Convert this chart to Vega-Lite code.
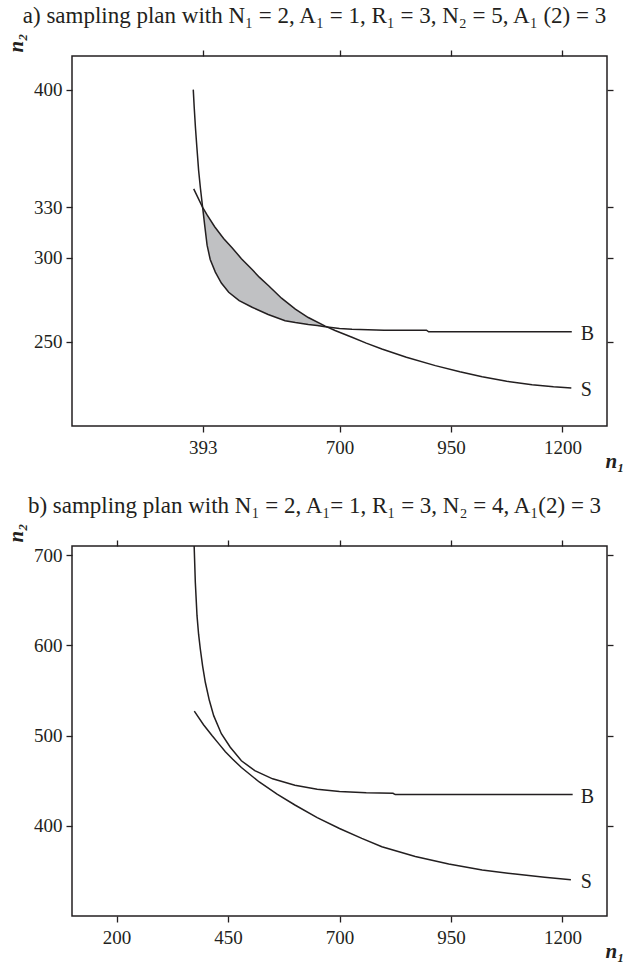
{
  "$schema": "https://vega.github.io/schema/vega-lite/v6.json",
  "background": "white",
  "padding": {"left": 4, "top": 4, "right": 0, "bottom": 0},
  "config": {
    "font": "Liberation Serif",
    "view": {"stroke": "#231f20", "strokeWidth": 1.5},
    "axis": {
      "grid": false,
      "domain": false,
      "tickColor": "#231f20",
      "tickWidth": 1.3,
      "tickSize": 6,
      "format": "d",
      "labelFont": "Liberation Serif",
      "labelFontSize": 19,
      "labelColor": "#231f20",
      "titleFont": "Liberation Serif",
      "titleFontSize": 21,
      "titleFontStyle": "italic",
      "titleFontWeight": "bold",
      "titleColor": "#231f20"
    },
    "title": {"font": "Liberation Serif", "fontSize": 23, "fontWeight": "normal", "color": "#231f20", "anchor": "middle", "frame": "bounds", "offset": 5}
  },
  "datasets": {
    "a_curves": [
      {"curve": "S", "n1": 373, "n2": 341},
      {"curve": "S", "n1": 393, "n2": 330},
      {"curve": "S", "n1": 403, "n2": 325.5},
      {"curve": "S", "n1": 420, "n2": 318.5},
      {"curve": "S", "n1": 440, "n2": 311.5},
      {"curve": "S", "n1": 459, "n2": 306},
      {"curve": "S", "n1": 480, "n2": 299.5},
      {"curve": "S", "n1": 504, "n2": 293},
      {"curve": "S", "n1": 520, "n2": 288.5},
      {"curve": "S", "n1": 541, "n2": 283.4},
      {"curve": "S", "n1": 570, "n2": 276},
      {"curve": "S", "n1": 601, "n2": 269.5},
      {"curve": "S", "n1": 630, "n2": 264.5},
      {"curve": "S", "n1": 668, "n2": 259.4},
      {"curve": "S", "n1": 690, "n2": 256.8},
      {"curve": "S", "n1": 728, "n2": 252.8},
      {"curve": "S", "n1": 760, "n2": 249.3},
      {"curve": "S", "n1": 795, "n2": 245.8},
      {"curve": "S", "n1": 850, "n2": 240.9},
      {"curve": "S", "n1": 915, "n2": 235.9},
      {"curve": "S", "n1": 970, "n2": 232.2},
      {"curve": "S", "n1": 1020, "n2": 229.3},
      {"curve": "S", "n1": 1075, "n2": 226.6},
      {"curve": "S", "n1": 1132, "n2": 224.5},
      {"curve": "S", "n1": 1180, "n2": 223.3},
      {"curve": "S", "n1": 1220, "n2": 222.6},
      {"curve": "B", "n1": 372, "n2": 400},
      {"curve": "B", "n1": 374, "n2": 390},
      {"curve": "B", "n1": 377, "n2": 377},
      {"curve": "B", "n1": 380, "n2": 366},
      {"curve": "B", "n1": 384, "n2": 352},
      {"curve": "B", "n1": 388, "n2": 341.5},
      {"curve": "B", "n1": 393, "n2": 330},
      {"curve": "B", "n1": 398, "n2": 318.5},
      {"curve": "B", "n1": 403, "n2": 307.5},
      {"curve": "B", "n1": 410, "n2": 299},
      {"curve": "B", "n1": 421.5, "n2": 291.5},
      {"curve": "B", "n1": 435, "n2": 285},
      {"curve": "B", "n1": 451.5, "n2": 279.5},
      {"curve": "B", "n1": 475, "n2": 274.5},
      {"curve": "B", "n1": 504, "n2": 270.6},
      {"curve": "B", "n1": 540, "n2": 266.3},
      {"curve": "B", "n1": 578, "n2": 262.6},
      {"curve": "B", "n1": 601, "n2": 261.5},
      {"curve": "B", "n1": 630, "n2": 260.3},
      {"curve": "B", "n1": 650, "n2": 259.7},
      {"curve": "B", "n1": 668, "n2": 259},
      {"curve": "B", "n1": 700, "n2": 258},
      {"curve": "B", "n1": 728, "n2": 257.5},
      {"curve": "B", "n1": 800, "n2": 257},
      {"curve": "B", "n1": 895, "n2": 257},
      {"curve": "B", "n1": 900, "n2": 256},
      {"curve": "B", "n1": 1221, "n2": 256}
    ],
    "a_fill": [
      {"n1": 393, "s": 330, "b": 330},
      {"n1": 398, "s": 327.5, "b": 318.5},
      {"n1": 403, "s": 325.5, "b": 307.5},
      {"n1": 410, "s": 322.6, "b": 299},
      {"n1": 421.5, "s": 318, "b": 291.5},
      {"n1": 435, "s": 313.2, "b": 285},
      {"n1": 451.5, "s": 308, "b": 279.5},
      {"n1": 475, "s": 301.3, "b": 274.5},
      {"n1": 504, "s": 293, "b": 270.6},
      {"n1": 540, "s": 283.6, "b": 266.3},
      {"n1": 578, "s": 274.2, "b": 262.6},
      {"n1": 601, "s": 269.5, "b": 261.5},
      {"n1": 630, "s": 264.5, "b": 260.3},
      {"n1": 650, "s": 261.8, "b": 259.7},
      {"n1": 668, "s": 259.4, "b": 259},
      {"n1": 673, "s": 258.9, "b": 258.9}
    ],
    "a_labels": [
      {"label": "B", "n1": 1241, "n2": 256},
      {"label": "S", "n1": 1241, "n2": 222.6}
    ],
    "b_curves": [
      {"curve": "B", "n1": 373.3, "n2": 721},
      {"curve": "B", "n1": 374, "n2": 710},
      {"curve": "B", "n1": 376.6, "n2": 669.8},
      {"curve": "B", "n1": 380.4, "n2": 632.8},
      {"curve": "B", "n1": 384, "n2": 612},
      {"curve": "B", "n1": 387.8, "n2": 595.9},
      {"curve": "B", "n1": 393, "n2": 577},
      {"curve": "B", "n1": 399, "n2": 559},
      {"curve": "B", "n1": 408, "n2": 539},
      {"curve": "B", "n1": 417.8, "n2": 522},
      {"curve": "B", "n1": 435, "n2": 502},
      {"curve": "B", "n1": 455, "n2": 487},
      {"curve": "B", "n1": 480, "n2": 472},
      {"curve": "B", "n1": 510, "n2": 461},
      {"curve": "B", "n1": 550, "n2": 452},
      {"curve": "B", "n1": 600, "n2": 445},
      {"curve": "B", "n1": 650, "n2": 440.5},
      {"curve": "B", "n1": 700, "n2": 438},
      {"curve": "B", "n1": 760, "n2": 436.5},
      {"curve": "B", "n1": 820, "n2": 436},
      {"curve": "B", "n1": 825, "n2": 434.5},
      {"curve": "B", "n1": 1223, "n2": 434.5},
      {"curve": "S", "n1": 374.3, "n2": 527},
      {"curve": "S", "n1": 395, "n2": 512},
      {"curve": "S", "n1": 414, "n2": 500},
      {"curve": "S", "n1": 429, "n2": 491},
      {"curve": "S", "n1": 444, "n2": 482},
      {"curve": "S", "n1": 460, "n2": 474},
      {"curve": "S", "n1": 480, "n2": 464.5},
      {"curve": "S", "n1": 520, "n2": 448.5},
      {"curve": "S", "n1": 560, "n2": 435},
      {"curve": "S", "n1": 600, "n2": 423},
      {"curve": "S", "n1": 650, "n2": 409},
      {"curve": "S", "n1": 700, "n2": 397},
      {"curve": "S", "n1": 750, "n2": 386},
      {"curve": "S", "n1": 795, "n2": 376.8},
      {"curve": "S", "n1": 870, "n2": 366},
      {"curve": "S", "n1": 945, "n2": 357.6},
      {"curve": "S", "n1": 1020, "n2": 351},
      {"curve": "S", "n1": 1094, "n2": 346.5},
      {"curve": "S", "n1": 1160, "n2": 343},
      {"curve": "S", "n1": 1219, "n2": 340.2}
    ],
    "b_labels": [
      {"label": "B", "n1": 1241, "n2": 434.5},
      {"label": "S", "n1": 1241, "n2": 340.2}
    ]
  },
  "bounds": "flush",
  "spacing": 120,
  "vconcat": [
    {
      "width": 535,
      "height": 370,
      "title": {"text": "a)  sampling plan with N₁ = 2, A₁ = 1, R₁ = 3, N₂ = 5, A₁ (2) = 3"},
      "layer": [
        {
          "data": {"name": "a_fill"},
          "mark": {"type": "area", "color": "#c0c1c3", "clip": true},
          "encoding": {
            "x": {"field": "n1", "type": "quantitative", "scale": {"domain": [100, 1300], "nice": false, "zero": false}, "axis": null},
            "y": {"field": "s", "type": "quantitative", "scale": {"domain": [200, 420], "nice": false, "zero": false}, "axis": null},
            "y2": {"field": "b"}
          }
        },
        {
          "data": {"name": "a_curves"},
          "mark": {"type": "line", "color": "#231f20", "strokeWidth": 1.5, "clip": true},
          "encoding": {
            "x": {"field": "n1", "type": "quantitative", "scale": {"domain": [100, 1300], "nice": false, "zero": false},
              "axis": {"orient": "bottom", "values": [393, 700, 950, 1200], "title": "n₁", "labelPadding": 6, "titleX": 533, "titleY": 41, "titleAlign": "left", "titleBaseline": "alphabetic"}},
            "y": {"field": "n2", "type": "quantitative", "scale": {"domain": [200, 420], "nice": false, "zero": false},
              "axis": {"orient": "left", "values": [250, 300, 330, 400], "title": "n₂", "labelPadding": 4, "titleAngle": 270, "titleX": -46, "titleY": -4, "titleAlign": "left", "titleBaseline": "bottom"}},
            "detail": {"field": "curve"}
          }
        },
        {
          "data": {"name": "a_labels"},
          "mark": {"type": "text", "align": "left", "baseline": "middle", "dy": 2, "fontSize": 20, "color": "#231f20", "font": "Liberation Serif"},
          "encoding": {
            "x": {"field": "n1", "type": "quantitative", "scale": {"domain": [100, 1300], "nice": false, "zero": false},
              "axis": {"orient": "top", "values": [393, 700, 950, 1200], "labels": false, "title": null}},
            "y": {"field": "n2", "type": "quantitative", "scale": {"domain": [200, 420], "nice": false, "zero": false},
              "axis": {"orient": "right", "values": [250, 300, 330, 400], "labels": false, "title": null}},
            "text": {"field": "label"}
          }
        }
      ]
    },
    {
      "width": 535,
      "height": 370,
      "title": {"text": "b)  sampling plan with N₁ = 2, A₁= 1, R₁ = 3, N₂ = 4,  A₁(2) = 3"},
      "layer": [
        {
          "data": {"name": "b_curves"},
          "mark": {"type": "line", "color": "#231f20", "strokeWidth": 1.5, "clip": true},
          "encoding": {
            "x": {"field": "n1", "type": "quantitative", "scale": {"domain": [100, 1300], "nice": false, "zero": false},
              "axis": {"orient": "bottom", "values": [200, 450, 700, 950, 1200], "title": "n₁", "labelPadding": 6, "titleX": 533, "titleY": 41, "titleAlign": "left", "titleBaseline": "alphabetic"}},
            "y": {"field": "n2", "type": "quantitative", "scale": {"domain": [300, 710], "nice": false, "zero": false},
              "axis": {"orient": "left", "values": [400, 500, 600, 700], "title": "n₂", "labelPadding": 4, "titleAngle": 270, "titleX": -46, "titleY": -4, "titleAlign": "left", "titleBaseline": "bottom"}},
            "detail": {"field": "curve"}
          }
        },
        {
          "data": {"name": "b_labels"},
          "mark": {"type": "text", "align": "left", "baseline": "middle", "dy": 2, "fontSize": 20, "color": "#231f20", "font": "Liberation Serif"},
          "encoding": {
            "x": {"field": "n1", "type": "quantitative", "scale": {"domain": [100, 1300], "nice": false, "zero": false},
              "axis": {"orient": "top", "values": [200, 450, 700, 950, 1200], "labels": false, "title": null}},
            "y": {"field": "n2", "type": "quantitative", "scale": {"domain": [300, 710], "nice": false, "zero": false},
              "axis": {"orient": "right", "values": [400, 500, 600, 700], "labels": false, "title": null}},
            "text": {"field": "label"}
          }
        }
      ]
    }
  ]
}
